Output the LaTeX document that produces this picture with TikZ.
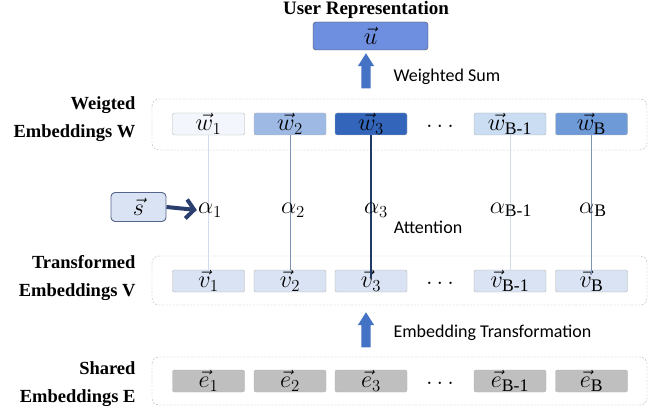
\documentclass[tikz,border=0pt]{standalone}
\usepackage{amsmath}
\usepackage{graphicx}
\usepackage{fontspec}
\setmainfont{Liberation Serif}
\newfontfamily\califont{Carlito}
\usetikzlibrary{arrows.meta,shapes.arrows}
\definecolor{uBlue}{HTML}{6E8EE0}
\definecolor{arrBlue}{HTML}{4472C4}
\definecolor{vFill}{HTML}{DAE3F3}
\definecolor{eFill}{HTML}{BFBFBF}
\definecolor{navy}{HTML}{2B3F6E}
\definecolor{wA}{HTML}{F3F6FC}
\definecolor{wB}{HTML}{9DB9E4}
\definecolor{wC}{HTML}{3366BB}
\definecolor{wD}{HTML}{CADDF2}
\definecolor{wE}{HTML}{6F9AD8}
\definecolor{lnLight}{HTML}{D0DBEB}
\definecolor{lnMid}{HTML}{7F93B2}
\definecolor{lnDark}{HTML}{1F3864}
\newcommand{\bm}[1]{\scalebox{1.4}{$#1$}}

\begin{document}
\begin{tikzpicture}[x=1pt,y=-1pt,
    bx/.style={rectangle,rounded corners=2pt,draw=gray!60,minimum width=72pt,minimum height=22pt,inner sep=0pt,font=\fontsize{18}{18}\selectfont},
    grp/.style={draw=gray!60,dash pattern=on 2pt off 1.5pt,rounded corners=7pt},
    lab/.style={anchor=east,align=right,font=\fontsize{18.5}{28}\selectfont\bfseries},
    captxt/.style={anchor=west,font=\fontsize{18}{18}\califont},
    al/.style={font=\fontsize{18}{18}\selectfont,inner sep=1pt},
    blk/.style={single arrow,fill=arrBlue,rotate=90,minimum height=35pt,minimum width=16pt,inner sep=4.5pt,single arrow head extend=3.5pt,single arrow tip angle=65}]
    \useasboundingbox (0,0) rectangle (650,414);

    % top
    \node[font=\fontsize{19}{19}\selectfont\bfseries] (title) at (366,10) {User Representation};
    \node[bx,fill=uBlue,draw=black!75,minimum width=115pt,minimum height=28pt,rounded corners=3pt] (u) at (370.5,36) {\bm{\vec{u}}};
    \node[blk] (sumarr) at (366,74.5) {};
    \node[captxt] (sumtxt) at (390,77) {Weighted Sum};

    % weighted embeddings
    \draw[grp] (152,99) rectangle (647,150);
    \node[lab] (wlab) at (139,119) {Weigted\\Embeddings W};
    \node[bx,fill=wA] (w1) at (208.5,124) {\bm{\vec{w}_1}};
    \node[bx,fill=wB] (w2) at (290,124) {\bm{\vec{w}_2}};
    \node[bx,fill=wC] (w3) at (371,124) {\bm{\vec{w}_3}};
    \node[al] (wdots) at (440,126) {\bm{\ldots}};
    \node[bx,fill=wD] (wb1) at (510,124) {\bm{\vec{w}_{\text{B-1}}}};
    \node[bx,fill=wE] (wb) at (591.5,124) {\bm{\vec{w}_{\text{B}}}};

    % transformed embeddings
    \draw[grp] (152,256) rectangle (647,305);
    \node[lab] (vlab) at (139,278) {Transformed\\Embeddings V};
    \node[bx,fill=vFill] (v1) at (208.5,281) {\bm{\vec{v}_1}};
    \node[bx,fill=vFill] (v2) at (290,281) {\bm{\vec{v}_2}};
    \node[bx,fill=vFill] (v3) at (371,281) {\bm{\vec{v}_3}};
    \node[al] (vdots) at (440,283) {\bm{\ldots}};
    \node[bx,fill=vFill] (vb1) at (510,281) {\bm{\vec{v}_{\text{B-1}}}};
    \node[bx,fill=vFill] (vb) at (591.5,281) {\bm{\vec{v}_{\text{B}}}};

    % attention lines
    \draw[lnLight,line width=0.8pt] (w1.south) -- (v1.north);
    \draw[lnMid,line width=0.8pt] (w2.south) -- (v2.north);
    \draw[lnDark,line width=1.6pt] (w3.south) -- ([yshift=-8pt]v3.north);
    \draw[lnLight,line width=0.8pt] (wb1.south) -- (vb1.north);
    \draw[lnMid,line width=1pt] (wb.south) -- ([yshift=-5pt]vb.north);

    \node[al] (a1) at (210,210) {\bm{\alpha_1}};
    \node[al] (a2) at (293,210) {\bm{\alpha_2}};
    \node[al] (a3) at (376,210) {\bm{\alpha_3}};
    \node[al] (ab1) at (511,210) {\bm{\alpha_{\text{B-1}}}};
    \node[al] (ab) at (593,210) {\bm{\alpha_{\text{B}}}};
    \node[captxt,anchor=center] (atttxt) at (428,227) {Attention};

    \node[bx,fill=vFill,draw=navy!80,line width=0.9pt,minimum width=55pt,minimum height=29pt,rounded corners=4pt] (s) at (138.5,207) {\bm{\vec{s}}};
    \draw[navy,line width=4pt,-{Straight Barb[length=8pt,width=19pt]}] (s.east) -- (a1.west);

    \node[blk] (transarr) at (366,333.5) {};
    \node[captxt] (transtxt) at (390,333) {Embedding Transformation};

    % shared embeddings
    \draw[grp] (152,357) rectangle (647,405);
    \node[lab] (elab) at (139,384) {Shared\\Embeddings E};
    \node[bx,fill=eFill] (e1) at (208.5,381) {\bm{\vec{e}_1}};
    \node[bx,fill=eFill] (e2) at (290,381) {\bm{\vec{e}_2}};
    \node[bx,fill=eFill] (e3) at (371,381) {\bm{\vec{e}_3}};
    \node[al] (edots) at (440,383) {\bm{\ldots}};
    \node[bx,fill=eFill] (eb1) at (510,381) {\bm{\vec{e}_{\text{B-1}}}};
    \node[bx,fill=eFill] (eb) at (591.5,381) {\bm{\vec{e}_{\text{B}}}};
\end{tikzpicture}
\end{document}
